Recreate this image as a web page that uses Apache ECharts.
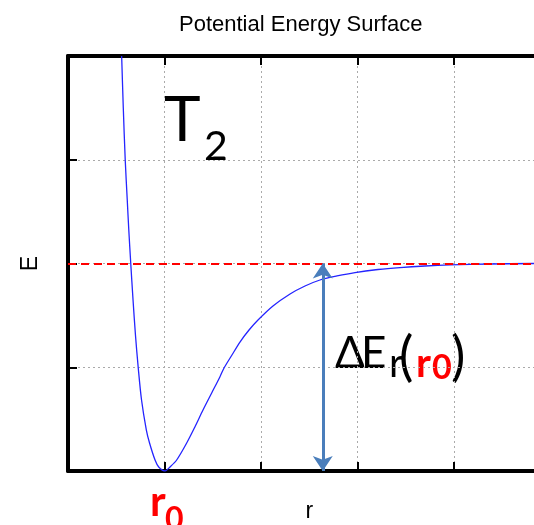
<!DOCTYPE html>
<html lang="en">
<head>
    <meta charset="utf-8">
    <title>Potential Energy Surface</title>
    <script src="https://cdn.jsdelivr.net/npm/echarts@6/dist/echarts.min.js"></script>
    <style>
        html, body { margin: 0; padding: 0; background: #fff; }
    </style>
</head>
<body>
<div id="main" style="width: 534px;height:525px;"></div>

<script type="text/javascript">
    // curve (r, E)
    var rVals = [0.556, 0.573, 0.593, 0.614, 0.630, 0.650, 0.674, 0.699, 0.728, 0.762, 0.812, 0.845, 0.902, 0.940, 1.005,
                 1.057, 1.126, 1.230, 1.316, 1.399, 1.489, 1.575, 1.617, 1.699, 1.782, 1.876, 1.969, 2.124, 2.301,
                 2.456, 2.611, 2.788, 2.974, 3.212, 3.440, 3.699, 3.959, 4.373, 4.829];
    var eVals = [4.000, 3.499, 2.998, 2.612, 2.323, 2.005, 1.648, 1.311, 0.993, 0.684, 0.395, 0.270, 0.106, 0.039, 0.000,
                 0.039, 0.106, 0.270, 0.427, 0.588, 0.752, 0.909, 0.993, 1.118, 1.243, 1.359, 1.455, 1.590, 1.706,
                 1.783, 1.841, 1.880, 1.913, 1.942, 1.961, 1.976, 1.986, 1.995, 2.000];
    var dissociation = 2;      // red dashed asymptote
    var arrowR = 2.64;         // where the ΔE arrow stands
    var rRange = [0, 5];
    var eRange = [0, 4];

    var curve = [];
    for (var i = 0; i < rVals.length; i++) {
        curve.push([rVals[i], eVals[i]]);
    }

    var myChart = echarts.init(document.getElementById('main'));

    var gridDash = { color: '#aaa', width: 1, type: [2, 3] };
    var axisBlack = { lineStyle: { color: '#000', width: 4 } };
    var tickIn = { inside: true, length: 9, lineStyle: { color: '#000', width: 2 } };

    var calibri = 'Lato, "Open Sans", sans-serif';
    var arial = '"Liberation Sans", Arial, sans-serif';

    function txt(str, x, y, size, color, bold) {
        return {
            type: 'text',
            x: x, y: y,
            silent: true,
            style: {
                text: str,
                fill: color || '#000',
                font: (bold ? 'bold ' : '') + size + 'px ' + calibri,
                textAlign: 'left',
                textVerticalAlign: 'middle'
            }
        };
    }

    option = {
        animation: false,
        title: {
            text: 'Potential Energy Surface',
            left: 174,
            top: 9,
            textStyle: { fontFamily: arial, fontWeight: 'normal', fontSize: 22, color: '#000' }
        },
        grid: { left: 68, top: 56, width: 482.5, height: 415, outerBoundsMode: 'none' },
        xAxis: [{
            type: 'value', min: rRange[0], max: rRange[1], interval: 1,
            name: 'r', nameLocation: 'middle', nameGap: 29,
            nameTextStyle: { fontFamily: arial, fontSize: 23, color: '#000' },
            axisLine: axisBlack, axisTick: tickIn, axisLabel: { show: false },
            splitLine: { show: true, lineStyle: gridDash }
        }, {
            type: 'value', position: 'top', min: rRange[0], max: rRange[1], interval: 1,
            axisLine: axisBlack, axisTick: tickIn, axisLabel: { show: false },
            splitLine: { show: false }
        }],
        yAxis: {
            type: 'value', min: eRange[0], max: eRange[1], interval: 1,
            name: 'E', nameLocation: 'middle', nameGap: 26, nameRotate: 90,
            nameTextStyle: { fontFamily: arial, fontSize: 23, color: '#000' },
            axisLine: axisBlack, axisTick: tickIn, axisLabel: { show: false },
            splitLine: { show: true, lineStyle: gridDash }
        },
        series: [{
            type: 'line',
            data: curve,
            smooth: 0.3,
            showSymbol: false,
            clip: true,
            lineStyle: { color: '#2424ff', width: 1.3 },
            markLine: {
                silent: true,
                symbol: 'none',
                label: { show: false },
                data: [
                    [{ coord: [rRange[0], dissociation] }, { coord: [rRange[1], dissociation] }],
                    [{ coord: [arrowR, eRange[0]], symbol: 'arrow', symbolSize: [15, 15] },
                     { coord: [arrowR, dissociation], symbol: 'arrow', symbolSize: [15, 15],
                       lineStyle: { color: '#4a7ebb', width: 3, type: 'solid' } }]
                ],
                lineStyle: { color: '#ff0000', width: 2, type: [8, 5] }
            }
        }],
        graphic: [
            txt('T', 164, 121, 62),
            txt('2', 204, 147, 41),
            txt('\u0394', 335, 354, 44),
            txt('E', 361, 354, 44),
            txt('r', 389, 364, 40),
            txt('(', 399, 358, 54),
            txt('r', 416, 364, 40, '#ff0000', true),
            txt('0', 432, 368, 34, '#ff0000', true),
            txt(')', 451, 358, 54),
            txt('r', 150, 502, 42, '#ff0000', true),
            txt('0', 165, 520, 32, '#ff0000', true)
        ]
    };

    myChart.setOption(option);
</script>
</body>
</html>
